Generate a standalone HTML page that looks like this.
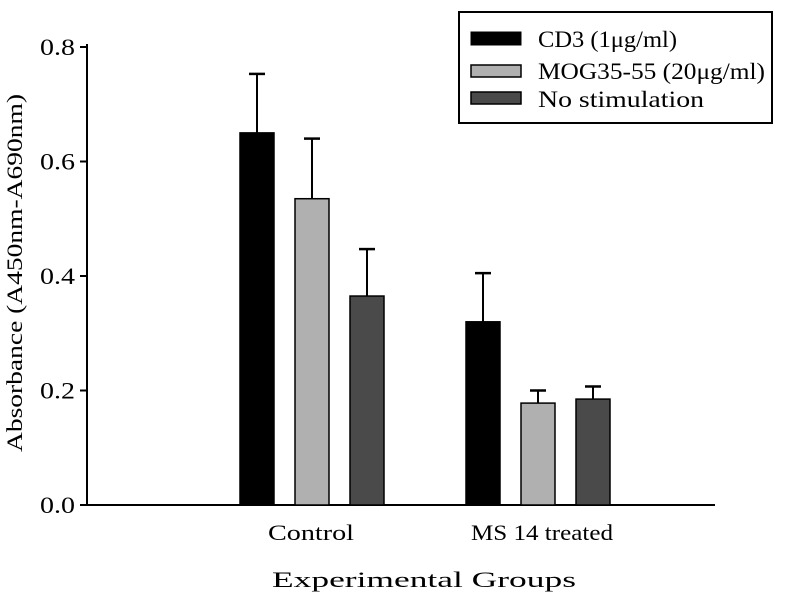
<!DOCTYPE html>
<html><head><meta charset="utf-8"><style>
html,body{margin:0;padding:0;background:#fff;}
svg{display:block;font-family:"Liberation Serif",serif;}
</style></head><body>
<svg id="chart" width="791" height="612">
<g id="axes"></g><g id="bars"></g>
<g>
<rect x="459" y="12" width="313" height="111" fill="#fff" stroke="#000" stroke-width="2"/>
<rect x="471" y="32" width="50" height="13" fill="#000" stroke="#000"/>
<text x="538" y="47" font-size="23" textLength="139" lengthAdjust="spacingAndGlyphs">CD3 (1μg/ml)</text>
<rect x="471" y="65" width="50" height="12" fill="#b0b0b0" stroke="#000" stroke-width="1.5"/>
<text x="538" y="79" font-size="23" textLength="227" lengthAdjust="spacingAndGlyphs">MOG35-55 (20μg/ml)</text>
<rect x="471" y="92" width="50" height="12" fill="#4a4a4a" stroke="#000" stroke-width="1.5"/>
<text x="538" y="107" font-size="23" textLength="166" lengthAdjust="spacingAndGlyphs">No stimulation</text>
</g>
<text x="272" y="587" font-size="22" textLength="304" lengthAdjust="spacingAndGlyphs">Experimental Groups</text>
<text transform="translate(22,273) rotate(-90)" font-size="22" text-anchor="middle" textLength="358" lengthAdjust="spacingAndGlyphs">Absorbance (A450nm-A690nm)</text>
</svg>
<script>
const categories = ["Control", "MS 14 treated"];
const seriesNames = ["CD3 (1μg/ml)", "MOG35-55 (20μg/ml)", "No stimulation"];
const cd3Values = [0.65, 0.32];
const mogValues = [0.535, 0.178];
const noStimValues = [0.365, 0.185];
const cd3Errors = [0.103, 0.085];
const mogErrors = [0.105, 0.022];
const noStimErrors = [0.082, 0.022];
const yTicks = [0.0, 0.2, 0.4, 0.6, 0.8];
const yTickLabels = ["0.0", "0.2", "0.4", "0.6", "0.8"];

const NS = "http://www.w3.org/2000/svg";
const x0 = 87, x1 = 715, yBase = 505, yTop = 47;
function yScale(v){ return yBase - v/0.8*(yBase - yTop); }
const groupCenter = [311, 542];
const catLen = [86, 142];
const offsets = [-55, 0, 55];
const barW = 34;
const fills = ["#000", "#b0b0b0", "#4a4a4a"];
const keys = ["cd3", "mog", "nostim"];
function mk(tag, attrs, parent){ const e=document.createElementNS(NS,tag); for(const k in attrs) e.setAttribute(k,attrs[k]); parent.appendChild(e); return e; }
const axes = document.getElementById("axes"), bars = document.getElementById("bars");
let el = mk("line",{x1:x0,y1:yTop-3,x2:x0,y2:yBase+1,stroke:"#000","stroke-width":2},axes);


el = mk("line",{x1:x0-1,y1:yBase,x2:x1,y2:yBase,stroke:"#000","stroke-width":2},axes);


yTicks.forEach((t,i)=>{
  const y=yScale(t);
  const tk=mk("line",{x1:x0-7,y1:y,x2:x0,y2:y,stroke:"#000","stroke-width":2},axes);
  
  
  const tx=mk("text",{x:40,y:y+8,"font-size":23,textLength:35,lengthAdjust:"spacingAndGlyphs"},axes);
  tx.textContent=yTickLabels[i];
  
  
});
categories.forEach((c,i)=>{
  const tx=mk("text",{x:groupCenter[i],y:540,"font-size":22,"text-anchor":"middle",textLength:catLen[i],lengthAdjust:"spacingAndGlyphs"},axes);
  tx.textContent=c;
  
  
});
const vals=[cd3Values,mogValues,noStimValues], errs=[cd3Errors,mogErrors,noStimErrors];
vals.forEach((arr,s)=>{
  arr.forEach((v,i)=>{
    const cx=[312,538][i]+offsets[s], top=yScale(v), et=yScale(v+errs[s][i]);
    const e1=mk("line",{x1:cx,y1:top,x2:cx,y2:et,stroke:"#000","stroke-width":2},bars);
    
    
    const e2=mk("line",{x1:cx-8,y1:et,x2:cx+8,y2:et,stroke:"#000","stroke-width":2.5},bars);
    
    
    const r=mk("rect",{x:cx-barW/2,y:top,width:barW,height:yBase-top,fill:fills[s],stroke:"#000","stroke-width":1.5},bars);
    
    
  });
});
</script>
</body></html>
